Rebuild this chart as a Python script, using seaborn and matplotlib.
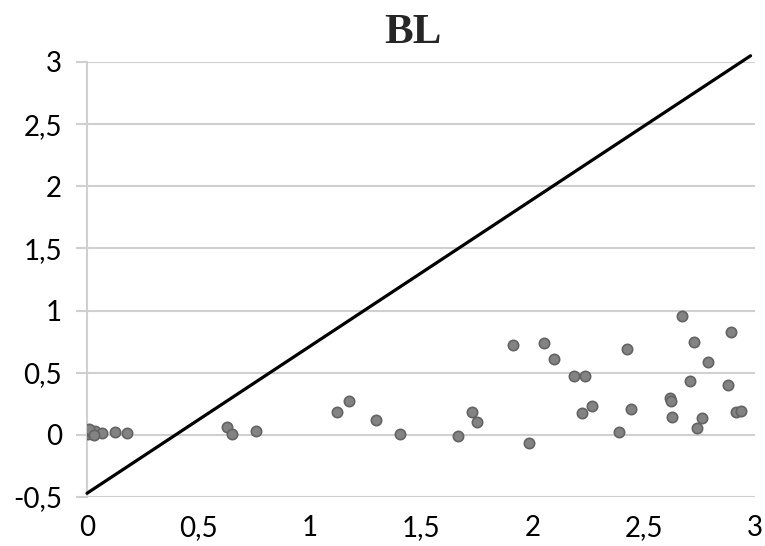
import matplotlib
matplotlib.use("Agg")
import matplotlib.pyplot as plt
import seaborn as sns
import pandas as pd
from matplotlib.ticker import FuncFormatter, MultipleLocator

# Data
x_vals = [0.005, 0.02, 0.036, 0.067, 0.125, 0.18, 0.01, 0.03,
          0.63, 0.65, 0.76,
          1.124, 1.178, 1.30, 1.406, 1.666, 1.729, 1.751,
          1.912, 1.984, 2.051, 2.096, 2.185, 2.235, 2.221, 2.266,
          2.391, 2.427, 2.445, 2.62, 2.624, 2.629, 2.673, 2.709,
          2.727, 2.741, 2.763, 2.79, 2.88, 2.893, 2.915, 2.937]
y_vals = [0.01, 0.02, 0.03, 0.015, 0.02, 0.015, 0.05, 0.0,
          0.065, 0.01, 0.03,
          0.18, 0.27, 0.12, 0.01, -0.01, 0.185, 0.10,
          0.724, -0.065, 0.74, 0.61, 0.475, 0.475, 0.175, 0.23,
          0.02, 0.69, 0.21, 0.30, 0.27, 0.145, 0.957, 0.43,
          0.75, 0.055, 0.135, 0.59, 0.40, 0.83, 0.18, 0.19]
line_x = [0.0, 2.98]
line_y = [-0.47, 3.05]
title = "BL"

sns.set_theme(style="white")
plt.rcParams['font.family'] = ['Lato', 'DejaVu Sans']

fig = plt.figure(figsize=(7.65, 5.46), dpi=100)
ax = fig.add_axes([87/765, 1-497/546, (755-87)/765, (497-62)/546])

pts = pd.DataFrame({"x": x_vals, "y": y_vals})
ln = pd.DataFrame({"x": line_x, "y": line_y})

sns.scatterplot(data=pts, x="x", y="y", ax=ax, s=55, color="#838383",
                edgecolor="#636363", linewidth=1.2, zorder=3)
sns.lineplot(data=ln, x="x", y="y", ax=ax, color="black", linewidth=2.3,
             zorder=4)
for l in ax.get_lines():
    l.set_clip_on(False)

ax.set_xlim(0, 3)
ax.set_ylim(-0.5, 3)
ax.xaxis.set_major_locator(MultipleLocator(0.5))
ax.yaxis.set_major_locator(MultipleLocator(0.5))
fmt = FuncFormatter(lambda v, p: ("%g" % v).replace(".", ","))
ax.xaxis.set_major_formatter(fmt)
ax.yaxis.set_major_formatter(fmt)

ax.grid(axis="y", color="#d0d0d0", linewidth=1.5)
ax.grid(axis="x", visible=False)
for s in ["top", "right", "bottom"]:
    ax.spines[s].set_visible(False)
ax.spines["left"].set_color("#d0d0d0")
ax.spines["left"].set_linewidth(1.5)
ax.set_xlabel("")
ax.set_ylabel("")
ax.tick_params(axis="y", length=8, width=1.5, color="#d0d0d0", pad=10,
               labelsize=20, left=True)
ax.tick_params(axis="x", length=0, pad=13, labelsize=20)
for lab in ax.get_xticklabels() + ax.get_yticklabels():
    lab.set_color("black")

fig.text(413/765, 1-33/546, title, ha="center", va="center",
         fontsize=31, fontweight="bold", family="Liberation Serif")

fig.savefig("out.png", dpi=100)
